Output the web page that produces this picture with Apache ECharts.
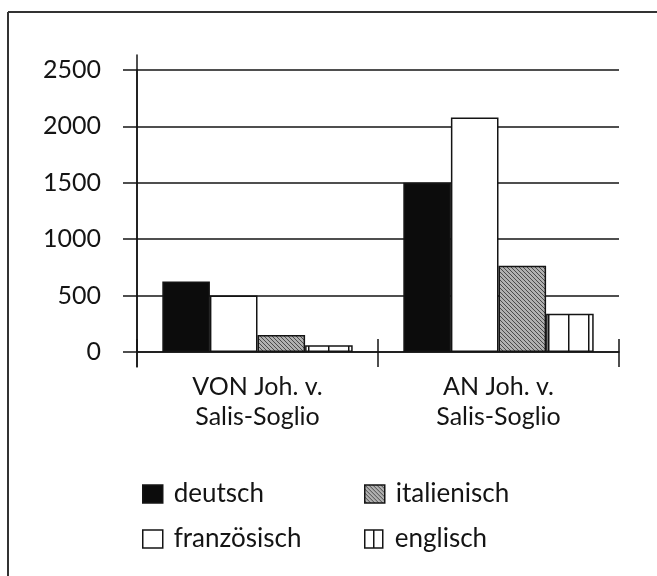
<!DOCTYPE html>
<html>
<head>
<meta charset="utf-8">
<script src="https://cdn.jsdelivr.net/npm/echarts@6/dist/echarts.min.js"></script>
<style>
	html, body { margin: 0; padding: 0; background: #fff; }
	#chart { width: 657px; height: 576px; }
</style>
</head>
<body>
<div id="chart"></div>
<script>
var categories = ["VON Joh. v.\nSalis-Soglio", "AN Joh. v.\nSalis-Soglio"];
var deutsch = [625, 1500];
var franzoesisch = [500, 2080];
var italienisch = [150, 765];
var englisch = [60, 340];
var yTicks = [0, 500, 1000, 1500, 2000, 2500];

var fontName = 'Lato';
var ink = '#141414';

function hatchPattern(){
	var c = document.createElement('canvas');
	c.width = 4;
	c.height = 4;
	var ctx = c.getContext('2d');
	ctx.fillStyle = '#b0b0b0';
	ctx.fillRect(0, 0, 4, 4);
	ctx.fillStyle = '#4a4a4a';
	for(var y=0; y<4; y++){
		ctx.fillRect(y % 4, y, 1, 1);
	}
	return { image: c, repeat: 'repeat' };
}

function stripePattern(){
	var c = document.createElement('canvas');
	c.width = 20;
	c.height = 4;
	var ctx = c.getContext('2d');
	ctx.fillStyle = '#fff';
	ctx.fillRect(0, 0, 20, 4);
	ctx.fillStyle = ink;
	ctx.fillRect(8, 0, 1.5, 4);
	return { image: c, repeat: 'repeat' };
}

function legendBox(name, left, top, icon){
	var item = { name: name, icon: 'rect' };
	if(icon) {
		item.icon = icon.path;
		item.itemStyle = icon.style;
	}
	return {
		data: [item],
		left: left,
		top: top,
		orient: 'horizontal',
		selectedMode: false,
		itemWidth: 20,
		itemHeight: 18,
		itemStyle: { borderColor: ink, borderWidth: 1.5 },
		textStyle: { fontFamily: fontName, fontSize: 26, color: ink, padding: [0, 0, 0, 6] }
	};
}

var chart = echarts.init(document.getElementById('chart'));

var options = {
	animation: false,
	backgroundColor: '#fff',
	graphic: [
		{ type: 'line', shape: { x1: 8, y1: 12, x2: 657, y2: 12 }, style: { stroke: '#333', lineWidth: 2 } },
		{ type: 'line', shape: { x1: 8, y1: 12, x2: 8, y2: 576 }, style: { stroke: '#333', lineWidth: 2 } }
	],
	legend: [
		legendBox('deutsch', 137, 476),
		legendBox('italienisch', 359, 476),
		legendBox('französisch', 137, 521),
		legendBox('englisch', 359, 521, {
			path: 'path://M0,0H20V20H0Z M10,0V20',
			style: { color: '#fff', borderColor: ink, borderWidth: 1.5 }
		})
	],
	grid: [
		{ left: 137, right: 38, top: 70, bottom: 224 },
		{ left: 137, right: 38, top: 55, bottom: 209 }
	],
	xAxis: [
		{
			type: 'category',
			gridIndex: 0,
			data: categories,
			boundaryGap: true,
			axisLine: { lineStyle: { color: ink, width: 1.5 } },
			axisTick: { show: true, length: 15, lineStyle: { color: ink, width: 1.5 } },
			axisLabel: { margin: 20, fontFamily: fontName, fontSize: 25, lineHeight: 30, color: ink }
		},
		{
			type: 'category',
			gridIndex: 0,
			data: categories,
			position: 'bottom',
			boundaryGap: true,
			axisLine: { show: false },
			axisTick: { show: true, inside: true, length: 13, lineStyle: { color: ink, width: 1.5 } },
			axisLabel: { show: false }
		},
		{ type: 'value', gridIndex: 1, show: false }
	],
	yAxis: [
		{
			type: 'value',
			gridIndex: 0,
			min: yTicks[0],
			max: yTicks[yTicks.length - 1],
			interval: 500,
			axisLine: { show: true, lineStyle: { color: ink, width: 1.5 } },
			axisTick: { show: true, length: 14, lineStyle: { color: ink, width: 1.5 } },
			splitLine: { show: true, lineStyle: { color: ink, width: 1.5 } },
			axisLabel: {
				margin: 36, fontFamily: fontName, fontSize: 25, color: ink,
				formatter: function(v){ return String(v); }
			}
		},
		{
			type: 'value',
			gridIndex: 1,
			min: 0,
			max: 1,
			axisLine: { show: true, lineStyle: { color: ink, width: 1.5 } },
			axisTick: { show: false },
			axisLabel: { show: false },
			splitLine: { show: false }
		}
	],
	series: [
		{
			name: 'deutsch', type: 'bar', xAxisIndex: 0, yAxisIndex: 0,
			data: deutsch, barGap: 0, barCategoryGap: '21%',
			itemStyle: { color: '#0c0c0c', borderColor: ink, borderWidth: 1.5 }
		},
		{
			name: 'französisch', type: 'bar', xAxisIndex: 0, yAxisIndex: 0,
			data: franzoesisch,
			itemStyle: { color: '#fff', borderColor: ink, borderWidth: 1.5 }
		},
		{
			name: 'italienisch', type: 'bar', xAxisIndex: 0, yAxisIndex: 0,
			data: italienisch,
			itemStyle: { color: hatchPattern(), borderColor: ink, borderWidth: 1.5 }
		},
		{
			name: 'englisch', type: 'bar', xAxisIndex: 0, yAxisIndex: 0,
			data: englisch,
			itemStyle: { color: stripePattern(), borderColor: ink, borderWidth: 1.5 }
		}
	]
};

chart.setOption(options);
</script>
</body>
</html>
